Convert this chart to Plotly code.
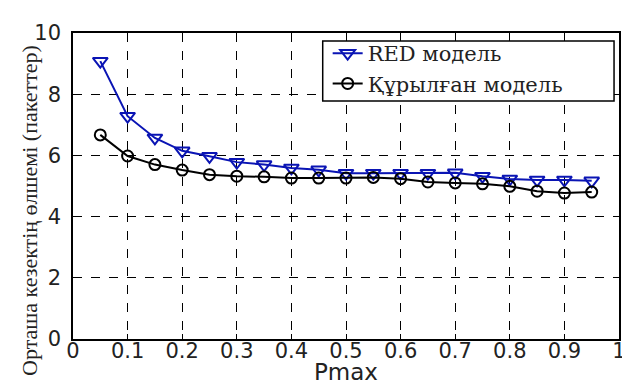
import plotly.graph_objects as go

pmax = [0.05, 0.10, 0.15, 0.20, 0.25, 0.30, 0.35, 0.40, 0.45, 0.50,
        0.55, 0.60, 0.65, 0.70, 0.75, 0.80, 0.85, 0.90, 0.95]
red_model = [9.08, 7.28, 6.57, 6.15, 5.97, 5.78, 5.70, 5.59, 5.53, 5.42,
             5.42, 5.42, 5.42, 5.43, 5.32, 5.23, 5.20, 5.20, 5.17]
built_model = [6.67, 5.98, 5.70, 5.52, 5.37, 5.32, 5.30, 5.26, 5.26, 5.26,
               5.28, 5.24, 5.13, 5.10, 5.07, 4.99, 4.83, 4.77, 4.80]
x_ticks = [0, 0.1, 0.2, 0.3, 0.4, 0.5, 0.6, 0.7, 0.8, 0.9, 1]
x_tick_labels = ["0", "0.1", "0.2", "0.3", "0.4", "0.5", "0.6", "0.7", "0.8", "0.9", "1"]
y_ticks = [0, 2, 4, 6, 8, 10]

fig = go.Figure()
fig.add_trace(go.Scatter(
    x=pmax, y=red_model, name="RED модель", mode="lines+markers",
    line=dict(color="#0a14b4", width=2),
    marker=dict(symbol="triangle-down-open", size=13, color="#0a14b4",
                line=dict(width=2, color="#0a14b4")),
))
fig.add_trace(go.Scatter(
    x=pmax, y=built_model, name="Құрылған модель", mode="lines+markers",
    line=dict(color="black", width=2),
    marker=dict(symbol="circle-open", size=11, color="black",
                line=dict(width=2, color="black")),
))

tick_font = dict(family="DejaVu Sans", size=21, color="#222")
axis_common = dict(
    showline=True, linecolor="black", linewidth=1.5, mirror="ticks",
    ticks="inside", ticklen=5, tickcolor="black",
    showgrid=True, gridcolor="black", griddash="dash", gridwidth=1,
    zeroline=False, tickfont=tick_font, ticklabeloverflow="allow",
)

fig.update_xaxes(range=[0, 1], tickvals=x_ticks, ticktext=x_tick_labels,
                 ticklabelstandoff=-8, **axis_common)
fig.update_yaxes(range=[0, 10], tickvals=y_ticks, ticklabelstandoff=6, **axis_common)

fig.add_annotation(text="Pmax", xref="paper", yref="paper", x=0.5, y=-0.108,
                   xanchor="center", yanchor="middle", showarrow=False,
                   font=dict(family="DejaVu Sans", size=23, color="#222"))
fig.add_annotation(text="Орташа кезектің өлшемі (пакеттер)", xref="paper", yref="paper",
                   x=(21 - 65) / 551, y=0.42, textangle=-90,
                   xanchor="center", yanchor="middle", showarrow=False,
                   font=dict(family="Liberation Serif, Times New Roman", size=22, color="#222"))

# legend frame
fig.add_shape(type="rect", xref="paper", yref="paper",
              x0=(317 - 65) / 551, x1=(611 - 65) / 551, y0=0.778, y1=0.974,
              line=dict(color="black", width=1.5), fillcolor="white", layer="above")

fig.update_layout(
    width=630, height=383,
    margin=dict(l=65, r=14, t=25, b=52),
    plot_bgcolor="white", paper_bgcolor="white",
    legend=dict(x=(322 - 65) / 551, y=1.0, xanchor="left", yanchor="top",
                bgcolor="rgba(0,0,0,0)", borderwidth=0,
                font=dict(family="DejaVu Serif", size=21, color="#222"),
                tracegroupgap=0),
    showlegend=True,
)

fig.write_html("out.html")
